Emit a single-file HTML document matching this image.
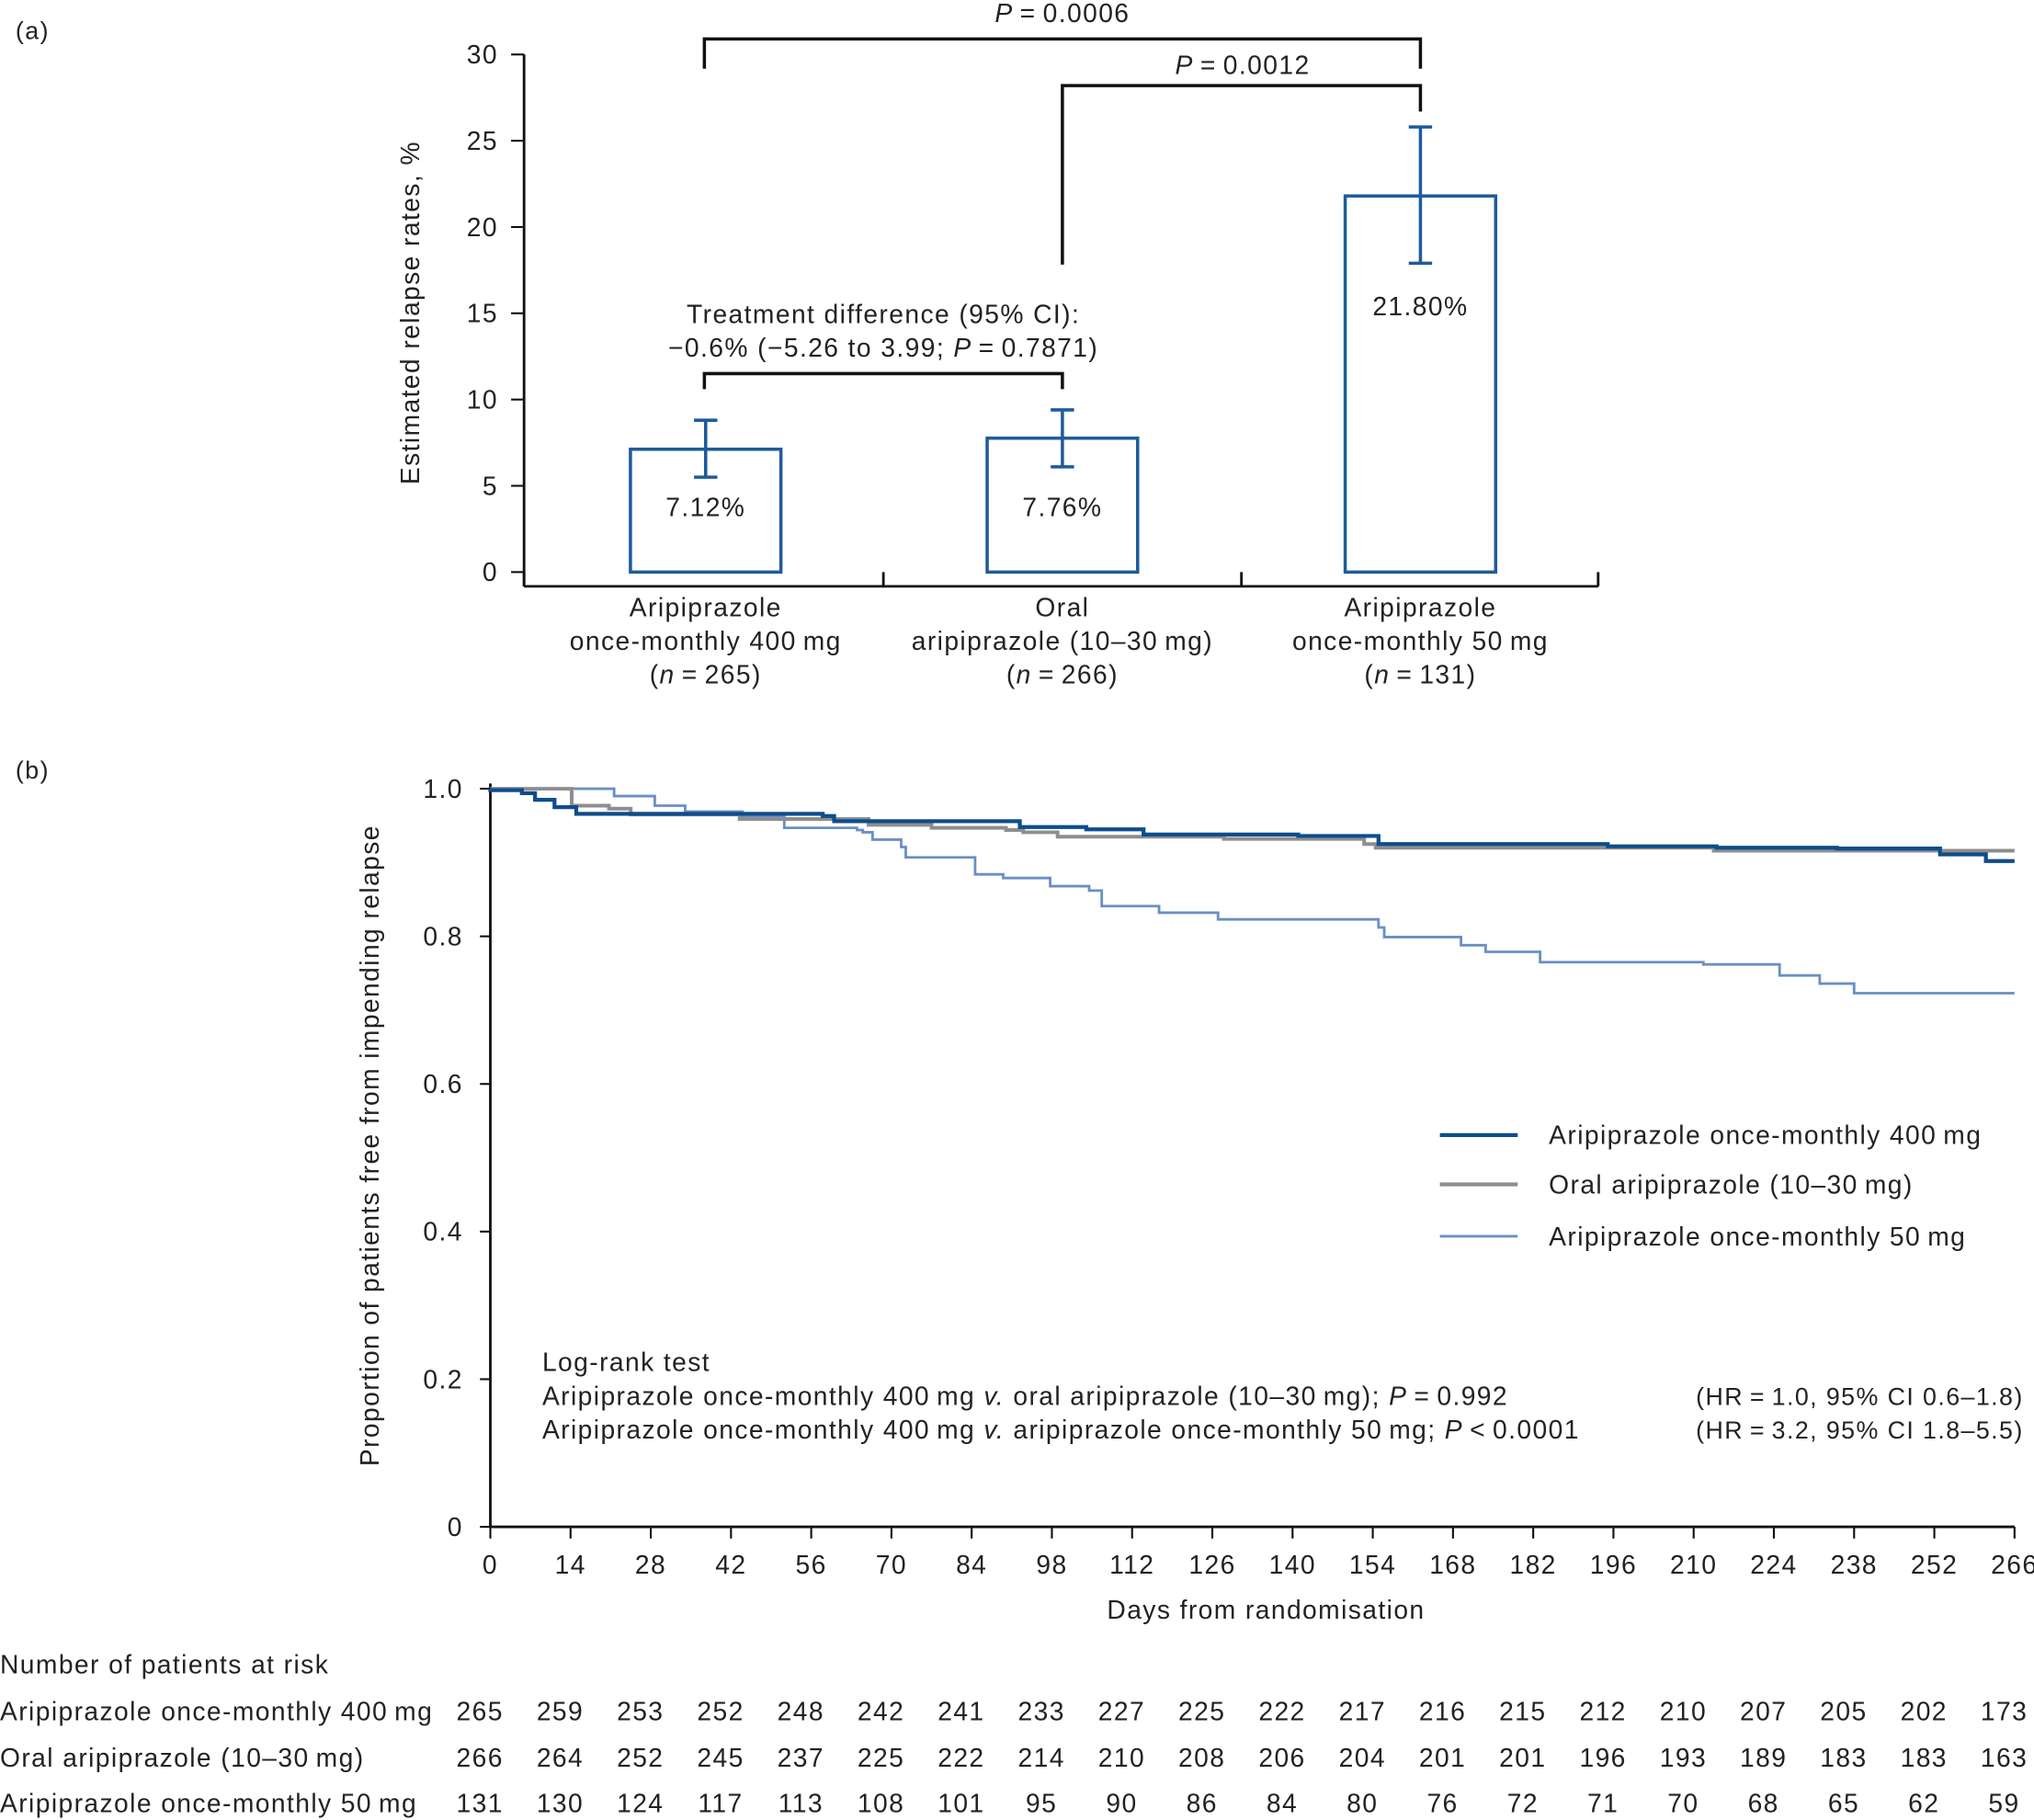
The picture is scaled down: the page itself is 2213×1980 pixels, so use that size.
<!DOCTYPE html>
<html><head><meta charset="utf-8"><style>
html,body{margin:0;padding:0;background:#fff}
svg{display:block}
text{font-family:"Liberation Sans",sans-serif;fill:#222;letter-spacing:1px}
</style></head><body>
<svg id="fig" width="2213" height="1980" viewBox="0 0 1568 1403" preserveAspectRatio="none" xmlns="http://www.w3.org/2000/svg">
<g id="pa"></g>
<g id="pb"></g>
</svg>
<script>
// Panel A data
const barCats = [["Aripiprazole","once-monthly 400\u2009mg","265"],["Oral","aripiprazole (10\u201330\u2009mg)","266"],["Aripiprazole","once-monthly 50\u2009mg","131"]];
const barVals = [7.12, 7.76, 21.8];
const barLo = [5.5, 6.1, 17.9];
const barHi = [8.8, 9.4, 25.8];
const barLabels = ["7.12%","7.76%","21.80%"];
const yTicksA = [0,5,10,15,20,25,30];
// Panel B data: [day at which step ends, survival value held until then]
const days = [0,14,28,42,56,70,84,98,112,126,140,154,168,182,196,210,224,238,252,266];
const kmTicks = [0,0.2,0.4,0.6,0.8,1.0];
const s400 = [[0,1],[5.5,0.998],[7.8,0.994],[11.2,0.985],[15,0.975],[58,0.966],[60,0.963],[92.4,0.956],[104,0.948],[114,0.945],[141,0.938],[155,0.936],[195,0.925],[214,0.922],[235,0.92],[253,0.919],[261,0.911],[266,0.902]];
const sOral = [[0,1],[14.2,1],[20.7,0.977],[24.5,0.973],[43.5,0.965],[66,0.959],[77,0.951],[90,0.947],[93,0.944],[99,0.941],[128,0.935],[152.5,0.932],[154.5,0.925],[213.5,0.92],[266,0.916]];
const s50 = [[0,1],[21.6,1],[28.7,0.99],[34,0.977],[44,0.969],[51.3,0.963],[64,0.947],[65,0.944],[66.7,0.941],[71.7,0.931],[72.5,0.921],[84.6,0.907],[89.5,0.884],[97.7,0.879],[104.5,0.868],[106.7,0.862],[116.7,0.841],[127,0.832],[155,0.823],[156,0.812],[169.4,0.799],[173.7,0.788],[183.2,0.779],[211.7,0.765],[225,0.762],[232,0.747],[238,0.736],[266,0.723]];
const risk400 = [265,259,253,252,248,242,241,233,227,225,222,217,216,215,212,210,207,205,202,173];
const riskOral = [266,264,252,245,237,225,222,214,210,208,206,204,201,201,196,193,189,183,183,163];
const risk50 = [131,130,124,117,113,108,101,95,90,86,84,80,76,72,71,70,68,65,62,59];

const NS="http://www.w3.org/2000/svg";
function mk(parent,tag,attrs,txt){const e=document.createElementNS(NS,tag);for(const k in attrs)e.setAttribute(k,attrs[k]);if(txt!==undefined)e.textContent=txt;parent.appendChild(e);return e;}
const pa=document.getElementById('pa'), pb=document.getElementById('pb');
const K="#111";
// ---------- Panel A ----------
const ya=v=>441-v*13.3;
const barX=[486,761,1037], bw=116;
let t=mk(pa,'text',{x:12,y:30,'font-size':19},'(a)');


let ax=mk(pa,'line',{x1:404,y1:42,x2:404,y2:452,stroke:K,'stroke-width':2});


let xa=mk(pa,'line',{x1:404,y1:452,x2:1232,y2:452,stroke:K,'stroke-width':2});


[404,681,957,1232].forEach(x=>{mk(pa,'line',{x1:x,y1:441,x2:x,y2:452,stroke:K,'stroke-width':2});});
yTicksA.forEach(v=>{
  mk(pa,'line',{x1:394,y1:ya(v),x2:404,y2:ya(v),stroke:K,'stroke-width':1.5});
  const e=mk(pa,'text',{x:384,y:ya(v)+7,'font-size':20,'text-anchor':'end'},String(v));
  
  
});
t=mk(pa,'text',{x:323,y:241,'font-size':20,'text-anchor':'middle',transform:'rotate(-90 323 241)'},'Estimated relapse rates, %');


barVals.forEach((v,i)=>{
  const b=mk(pa,'rect',{x:barX[i],y:ya(v),width:bw,height:ya(0)-ya(v),fill:'#fff',stroke:'#1f5b9a','stroke-width':2.5});
  
  
  const cx=barX[i]+bw/2;
  const eb=mk(pa,'g',{stroke:'#1f5b9a','stroke-width':2.5});
  
  
  mk(eb,'line',{x1:cx,y1:ya(barLo[i]),x2:cx,y2:ya(barHi[i])});
  mk(eb,'line',{x1:cx-9,y1:ya(barLo[i]),x2:cx+9,y2:ya(barLo[i])});
  mk(eb,'line',{x1:cx-9,y1:ya(barHi[i]),x2:cx+9,y2:ya(barHi[i])});
  const ly = i==2 ? 243 : ya(0)-43;
  const l=mk(pa,'text',{x:cx,y:ly,'font-size':20,'text-anchor':'middle'},barLabels[i]);
  
  
  const c=barCats[i];
  const g=mk(pa,'g',{});
  
  
  mk(g,'text',{x:cx,y:475,'font-size':20,'text-anchor':'middle'},c[0]);
  mk(g,'text',{x:cx,y:501,'font-size':20,'text-anchor':'middle'},c[1]);
  const n=mk(g,'text',{x:cx,y:527,'font-size':20,'text-anchor':'middle'},'(');
  mk(n,'tspan',{'font-style':'italic'},'n');
  n.appendChild(document.createTextNode('\u2009=\u2009'+c[2]+')'));
});
function bracket(x1,x2,y,d1,d2,name){
  const p=mk(pa,'path',{d:`M${x1} ${d1} V${y} H${x2} V${d2}`,fill:'none',stroke:K,'stroke-width':2.5});
  
  
}
bracket(543,1095,30,53,53,'bracket-p0006');
bracket(819,1095,66,204,86,'bracket-p0012');
bracket(543,819,288,300,300,'bracket-treatment-difference');
t=mk(pa,'text',{x:819,y:17,'font-size':20,'text-anchor':'middle'});
mk(t,'tspan',{'font-style':'italic'},'P');t.appendChild(document.createTextNode('\u2009=\u20090.0006'));


t=mk(pa,'text',{x:958,y:57,'font-size':20,'text-anchor':'middle'});
mk(t,'tspan',{'font-style':'italic'},'P');t.appendChild(document.createTextNode('\u2009=\u20090.0012'));


t=mk(pa,'text',{x:681,y:249,'font-size':20,'text-anchor':'middle'},'Treatment difference (95% CI):');


t=mk(pa,'text',{x:681,y:275,'font-size':20,'text-anchor':'middle'},'\u22120.6% (\u22125.26 to 3.99; ');
mk(t,'tspan',{'font-style':'italic'},'P');t.appendChild(document.createTextNode('\u2009=\u20090.7871)'));


// ---------- Panel B ----------
const xb=d=>378+d*(1175/266);
const yb=v=>1177-v*569;
t=mk(pb,'text',{x:12,y:600,'font-size':19},'(b)');


ax=mk(pb,'line',{x1:378,y1:604,x2:378,y2:1177,stroke:K,'stroke-width':2});


xa=mk(pb,'line',{x1:378,y1:1177,x2:1553,y2:1177,stroke:K,'stroke-width':2});


kmTicks.forEach(v=>{
  mk(pb,'line',{x1:370,y1:yb(v),x2:378,y2:yb(v),stroke:K,'stroke-width':1.5});
  const e=mk(pb,'text',{x:357,y:yb(v)+7,'font-size':20,'text-anchor':'end'},v===0?'0':v.toFixed(1));
  
  
});
days.forEach(d=>{
  mk(pb,'line',{x1:xb(d),y1:1177,x2:xb(d),y2:1186,stroke:K,'stroke-width':1.5});
  const e=mk(pb,'text',{x:xb(d),y:1213,'font-size':20,'text-anchor':'middle'},String(d));
  
  
});
t=mk(pb,'text',{x:976,y:1248,'font-size':20,'text-anchor':'middle'},'Days from randomisation');


t=mk(pb,'text',{x:292,y:883,'font-size':20,'text-anchor':'middle',transform:'rotate(-90 292 883)'},'Proportion of patients free from impending relapse');


function stepPath(s){let d=`M${xb(0)} ${yb(s[0][1])}`;for(let i=1;i<s.length;i++){d+=` V${yb(s[i][1])} H${xb(s[i][0])}`;}return d;}
const series=[[s50,'#6a8fc4',2,'km-curve-50mg'],[sOral,'#8e8e8e',2.8,'km-curve-oral'],[s400,'#0d4d8c',3,'km-curve-400mg']];
series.forEach(s=>{
  const p=mk(pb,'path',{d:stepPath(s[0]),fill:'none',stroke:s[1],'stroke-width':s[2]});
  
  
});
const leg=[['#0d4d8c',3,'Aripiprazole once-monthly 400\u2009mg',875],['#8e8e8e',3,'Oral aripiprazole (10\u201330\u2009mg)',913],['#6a8fc4',2,'Aripiprazole once-monthly 50\u2009mg',953]];
leg.forEach(l=>{
  const g=mk(pb,'g',{});
  
  
  mk(g,'line',{x1:1110,y1:l[3],x2:1170,y2:l[3],stroke:l[0],'stroke-width':l[1]});
  mk(g,'text',{x:1194,y:l[3]+7,'font-size':20},l[2]);
});
const lg=mk(pb,'g',{'font-size':20});


mk(lg,'text',{x:418,y:1057},'Log-rank test');
t=mk(lg,'text',{x:418,y:1083},'Aripiprazole once-monthly 400\u2009mg ');
mk(t,'tspan',{'font-style':'italic'},'v.');t.appendChild(document.createTextNode(' oral aripiprazole (10\u201330\u2009mg); '));
mk(t,'tspan',{'font-style':'italic'},'P');t.appendChild(document.createTextNode('\u2009=\u20090.992'));
t=mk(lg,'text',{x:418,y:1109},'Aripiprazole once-monthly 400\u2009mg ');
mk(t,'tspan',{'font-style':'italic'},'v.');t.appendChild(document.createTextNode(' aripiprazole once-monthly 50\u2009mg; '));
mk(t,'tspan',{'font-style':'italic'},'P');t.appendChild(document.createTextNode('\u2009<\u20090.0001'));
mk(lg,'text',{x:1560,y:1083,'text-anchor':'end','font-size':19},'(HR\u2009=\u20091.0, 95% CI 0.6\u20131.8)');
mk(lg,'text',{x:1560,y:1109,'text-anchor':'end','font-size':19},'(HR\u2009=\u20093.2, 95% CI 1.8\u20135.5)');
// risk table
t=mk(pb,'text',{x:0,y:1290,'font-size':20},'Number of patients at risk');


const rows=[[risk400,'Aripiprazole once-monthly 400\u2009mg',1326],[riskOral,'Oral aripiprazole (10\u201330\u2009mg)',1362],[risk50,'Aripiprazole once-monthly 50\u2009mg',1397]];
rows.forEach(r=>{
  const g=mk(pb,'g',{'font-size':20});
  
  
  mk(g,'text',{x:0,y:r[2]},r[1]);
  r[0].forEach((n,i)=>{mk(g,'text',{x:xb(days[i])-8,y:r[2],'text-anchor':'middle'},String(n));});
});
</script>
</body></html>
